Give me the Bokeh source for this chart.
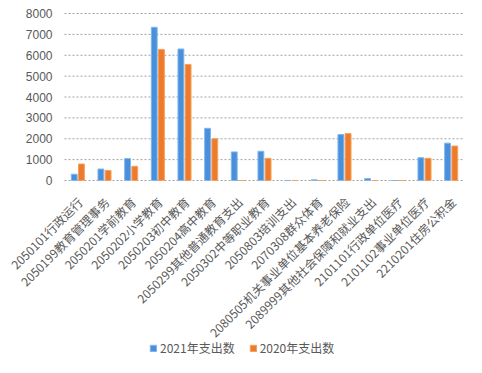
from bokeh.plotting import figure
from bokeh.models import ColumnDataSource, Range1d, Legend, LegendItem
from bokeh.core.properties import value
from bokeh.embed import file_html
from bokeh.resources import INLINE
import numpy as np
import math

categories = ["2050101行政运行", "2050199教育管理事务", "2050201学前教育", "2050202小学教育",
              "2050203初中教育", "2050204高中教育", "2050299其他普通教育支出", "2050302中等职业教育",
              "2050803培训支出", "2070308群众体育", "2080505机关事业单位基本养老保险",
              "2089999其他社会保障和就业支出", "2101101行政单位医疗", "2101102事业单位医疗",
              "2210201住房公积金"]
spend_2021 = [300, 550, 1050, 7340, 6300, 2500, 1370, 1400, 0, 30, 2200, 90, 0, 1090, 1790]
spend_2020 = [790, 480, 680, 6280, 5560, 2000, 0, 1060, 0, 0, 2250, 0, 0, 1060, 1650]
series_names = ["2021年支出数", "2020年支出数"]
y_ticks = [0, 1000, 2000, 3000, 4000, 5000, 6000, 7000, 8000]
y_tick_labels = [str(t) for t in y_ticks]

# layout geometry (pixels)
W, H = 466, 357
n = len(categories)
left_px, right_px = 64, 2          # space left / right of category area
cat_px = (W - left_px - right_px) / n
top_px, zero_px = 13, 180          # top (8000) line and 0 line
ymax = y_ticks[-1]
upp = ymax / (zero_px - top_px)    # data units per pixel

p = figure(width=W, height=H,
           x_range=Range1d(-left_px / cat_px, n + right_px / cat_px),
           y_range=Range1d(-(H - zero_px) * upp, ymax + top_px * upp),
           output_backend="svg", toolbar_location=None,
           min_border_left=0, min_border_right=0, min_border_top=0, min_border_bottom=0)
p.axis.visible = False
p.grid.visible = False
p.outline_line_color = None

idx = np.arange(n) + 0.5

# gridlines
p.segment(x0=[0] * len(y_ticks), x1=[n] * len(y_ticks), y0=y_ticks, y1=y_ticks,
          line_color="#A0A0A0", line_width=1, line_dash="2 2")

src = ColumnDataSource(dict(xa=idx - 0.135, xb=idx + 0.135, a=spend_2021, b=spend_2020))
r1 = p.vbar(x="xa", top="a", bottom=0, width=0.22, source=src,
            fill_color="#4A8FDB", line_color="#7DB8EC", line_width=1)
r2 = p.vbar(x="xb", top="b", bottom=0, width=0.22, source=src,
            fill_color="#EE7A2B", line_color="#F5A15E", line_width=1)

# y tick labels
p.text(x=[-12 / cat_px] * len(y_ticks), y=y_ticks, text=y_tick_labels,
       text_align="right", text_baseline="middle", text_font=value("Liberation Sans"),
       text_font_size="12px", text_color="#595959")

# x category labels, rotated 45 degrees
p.text(x=idx + 2 / cat_px, y=[-19 * upp] * n, text=categories, angle=math.pi / 4,
       text_align="right", text_baseline="middle", text_font=value("Noto Sans CJK SC"),
       text_font_size="12px", text_color="#595959")

legend = Legend(items=[LegendItem(label=series_names[0], renderers=[r1]),
                       LegendItem(label=series_names[1], renderers=[r2])],
                orientation="horizontal", location=(149, 1),
                label_text_font="Noto Sans CJK SC", label_text_font_size="12px",
                label_text_color="#595959", glyph_width=8, glyph_height=8,
                spacing=14, label_standoff=3, border_line_color=None,
                background_fill_alpha=0, margin=0, padding=2)
p.add_layout(legend, "center")

open("out.html", "w").write(file_html(p, INLINE))
